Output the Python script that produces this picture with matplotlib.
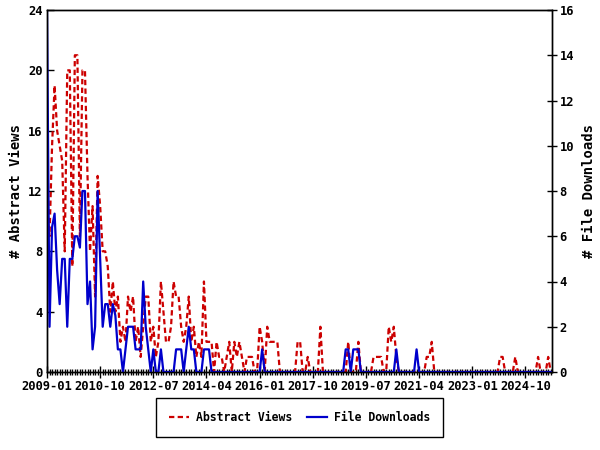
import matplotlib
matplotlib.use("Agg")
import matplotlib.pyplot as plt
from matplotlib.ticker import MultipleLocator, FixedLocator
from matplotlib.patches import Rectangle

start_year, start_month = 2009, 1
n_months = 200

tick_labels = ["2009-01", "2010-10", "2012-07", "2014-04", "2016-01",
               "2017-10", "2019-07", "2021-04", "2023-01", "2024-10"]

abstract_views = [
    11, 9, 15, 19, 16, 15, 14, 8, 20, 20,
    7, 21, 21, 9, 20, 20, 13, 8, 11, 5,
    13, 11, 8, 8, 7, 4, 6, 4, 5, 2,
    3, 2, 5, 4, 5, 2, 3, 1, 3, 5,
    5, 2, 3, 1, 2, 6, 4, 2, 2, 3,
    6, 5, 5, 3, 2, 3, 5, 2, 3, 1,
    2, 1, 6, 2, 2, 2, 0, 2, 1, 1,
    0, 1, 2, 0, 2, 1, 2, 1, 0, 1,
    1, 1, 0, 0, 3, 2, 0, 3, 2, 2,
    2, 2, 0, 0, 0, 0, 0, 0, 0, 2,
    2, 0, 0, 1, 0, 0, 0, 0, 3, 0,
    0, 0, 0, 0, 0, 0, 0, 0, 0, 2,
    0, 0, 0, 2, 0, 0, 0, 0, 0, 1,
    1, 1, 1, 0, 0, 3, 2, 3, 1, 0,
    0, 0, 0, 0, 0, 0, 0, 0, 0, 0,
    1, 1, 2, 0, 0, 0, 0, 0, 0, 0,
    0, 0, 0, 0, 0, 0, 0, 0, 0, 0,
    0, 0, 0, 0, 0, 0, 0, 0, 0, 1,
    1, 0, 0, 0, 0, 1, 0, 0, 0, 0,
    0, 0, 0, 0, 1, 0, 0, 0, 1, 0,
]

file_downloads = [
    16, 2, 6.4, 7, 4.5, 3, 5, 5, 2, 5,
    5, 6, 6, 5.5, 8, 8, 3, 4, 1, 2,
    8, 5, 2, 3, 3, 2, 3, 2.5, 1, 1,
    0, 1, 2, 2, 2, 1, 1, 1, 4, 2,
    1, 0, 1, 0, 0, 1, 0, 0, 0, 0,
    0, 1, 1, 1, 0, 1, 2, 1, 1, 0,
    0, 0, 1, 1, 1, 0, 0, 0, 0, 0,
    0, 0, 0, 0, 0, 0, 0, 0, 0, 0,
    0, 0, 0, 0, 0, 1, 0, 0, 0, 0,
    0, 0, 0, 0, 0, 0, 0, 0, 0, 0,
    0, 0, 0, 0, 0, 0, 0, 0, 0, 0,
    0, 0, 0, 0, 0, 0, 0, 0, 1, 1,
    0, 1, 1, 1, 0, 0, 0, 0, 0, 0,
    0, 0, 0, 0, 0, 0, 0, 0, 1, 0,
    0, 0, 0, 0, 0, 0, 1, 0, 0, 0,
    0, 0, 0, 0, 0, 0, 0, 0, 0, 0,
    0, 0, 0, 0, 0, 0, 0, 0, 0, 0,
    0, 0, 0, 0, 0, 0, 0, 0, 0, 0,
    0, 0, 0, 0, 0, 0, 0, 0, 0, 0,
    0, 0, 0, 0, 0, 0, 0, 0, 0, 0,
]

months = list(range(n_months))
tick_pos = [i * 21 for i in range(len(tick_labels))]

font = "DejaVu Sans Mono"
red = "#cc0000"
blue = "#0000cc"

fig = plt.figure(figsize=(6, 4.5), dpi=100)
ax = fig.add_axes([47/600, 78/450, (552-47)/600, (372-10)/450])
ax2 = ax.twinx()

l1, = ax.plot(months, abstract_views, color=red, lw=1.6, dashes=(2.4, 1.5),
              label="Abstract Views")
l2, = ax2.plot(months, file_downloads, color=blue, lw=1.6, label="File Downloads")

ax.set_xlim(0, n_months - 0.5)
ax.set_ylim(0, 24)
ax2.set_ylim(0, 16)
ax.yaxis.set_major_locator(MultipleLocator(4))
ax2.yaxis.set_major_locator(MultipleLocator(2))
ax.xaxis.set_major_locator(FixedLocator(tick_pos))
ax.xaxis.set_minor_locator(MultipleLocator(1))
ax.set_xticklabels(tick_labels)

for a in (ax, ax2):
    for s in a.spines.values():
        s.set_linewidth(1)
        s.set_color("black")
ax.tick_params(axis="x", which="major", direction="inout", length=8, width=1, pad=2)
ax.tick_params(axis="x", which="minor", direction="inout", length=4, width=1)
ax.tick_params(axis="y", direction="in", length=5, width=1, pad=3)
ax2.tick_params(axis="y", direction="inout", length=7, width=1, pad=2)

for lab in ax.get_xticklabels() + ax.get_yticklabels() + ax2.get_yticklabels():
    lab.set_fontfamily(font)
    lab.set_fontweight("bold")
    lab.set_fontsize(8.7)

ax.set_ylabel("# Abstract Views", fontfamily=font, fontweight="bold", fontsize=10, labelpad=4)
ax2.set_ylabel("# File Downloads", fontfamily=font, fontweight="bold", fontsize=10, labelpad=6)

leg = fig.legend(handles=[l1, l2], loc="center", bbox_to_anchor=(299.5/600, 1 - 417.5/450),
                 ncol=2, frameon=False,
                 prop={"family": font, "weight": "bold", "size": 8.3},
                 handlelength=1.75, columnspacing=1.3, borderpad=0.3, handletextpad=0.6)
fig.patches.append(Rectangle((156/600, 1 - 437/450), 287/600, 39/450, fill=False,
                             ec="black", lw=1, transform=fig.transFigure))

fig.savefig("out.png", dpi=100)
